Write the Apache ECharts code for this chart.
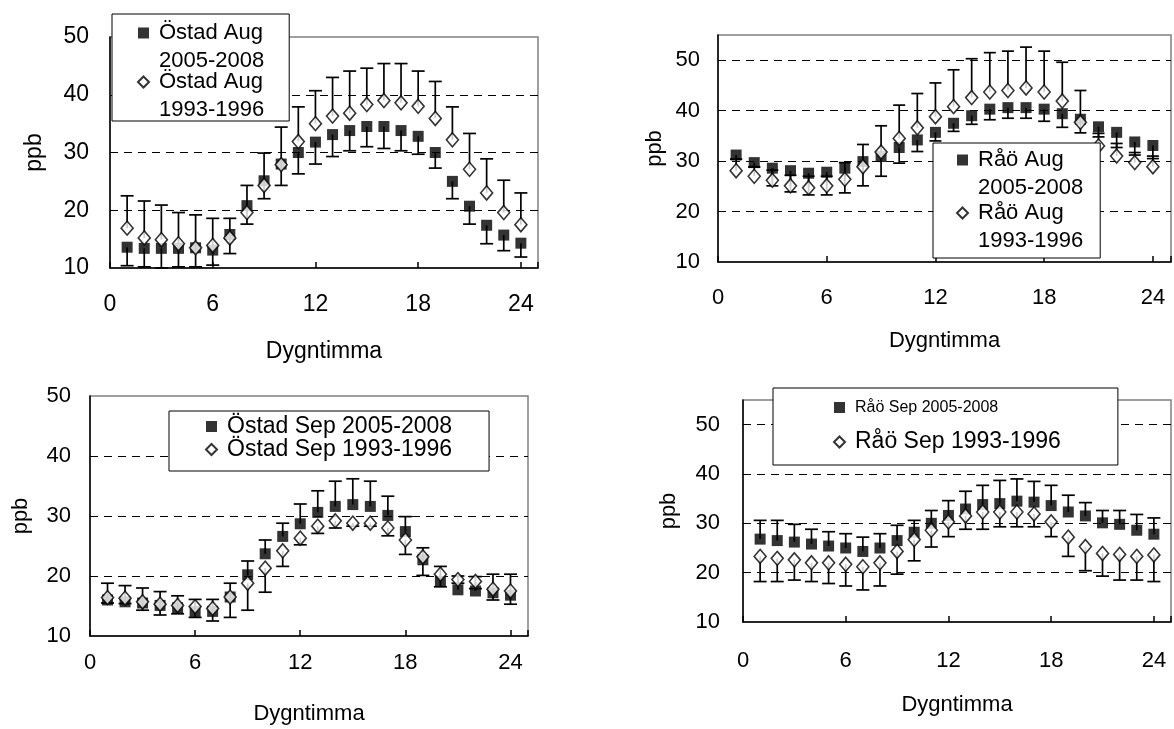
<!DOCTYPE html>
<html><head><meta charset="utf-8">
<script src="https://cdn.jsdelivr.net/npm/echarts@6/dist/echarts.min.js"></script>
<style>html,body{margin:0;padding:0;background:#fff}#c{width:1174px;height:729px}</style>
</head><body><div id="c"></div>
<script>
// ---- data ----
const hours = [1,2,3,4,5,6,7,8,9,10,11,12,13,14,15,16,17,18,19,20,21,22,23,24];
const xTickValues = [0, 6, 12, 18, 24];
const yTickValues = [10, 20, 30, 40, 50];

// Östad Aug (filled = 2005-2008, error bar down; open = 1993-1996, error bar up)
const ostadAug0508 = [13.6,13.4,13.4,13.4,13.5,13.1,15.8,20.8,25.1,28.0,30.0,31.8,33.1,33.8,34.5,34.5,33.8,32.8,30.0,25.0,20.7,17.4,15.7,14.3];
const ostadAug0508Low = [10.4,10.2,10.0,10.2,10.2,10.5,12.5,17.6,22.0,24.3,26.3,28.0,29.3,30.3,31.0,30.7,30.3,29.7,27.3,22.0,17.6,14.2,13.0,11.9];
const ostadAug9396 = [16.9,15.2,14.9,14.2,13.5,13.9,15.2,19.6,24.3,27.9,31.9,35.0,36.3,36.8,38.3,39.0,38.6,38.0,35.9,32.2,27.1,23.0,19.6,17.5];
const ostadAug9396High = [22.5,21.6,20.9,19.6,19.2,18.6,18.6,24.3,29.9,34.4,37.9,40.7,43.0,44.1,44.6,45.4,45.4,44.1,42.3,37.9,33.3,28.9,25.2,23.0];

// Råö Aug
const raoAug0508 = [31.2,29.7,28.6,28.1,27.6,27.8,28.6,29.9,30.9,32.7,34.2,35.7,37.5,39.0,40.3,40.6,40.6,40.3,39.4,38.3,36.8,35.7,33.8,33.1];
const raoAug0508Low = [30.4,28.8,25.1,23.9,23.3,23.3,23.7,25.1,27.0,29.6,31.9,34.0,35.9,37.3,38.2,38.5,38.5,37.9,36.7,35.6,34.8,32.7,31.2,30.5];
const raoAug9396 = [28.1,27.0,26.2,25.1,24.7,25.1,26.4,28.9,31.8,34.5,36.6,38.8,40.8,42.6,43.7,44.0,44.5,43.7,41.9,37.7,33.0,31.0,29.7,28.9];
const raoAug9396High = [30.4,28.9,28.2,27.2,27.0,27.0,29.7,33.3,37.0,41.1,43.4,45.5,48.1,50.3,51.5,51.8,52.6,51.8,49.6,44.0,35.5,33.5,31.7,31.0];

// Östad Sep (filled: error up; open: error down)
const ostadSep0508 = [16.0,15.7,15.5,15.1,14.7,14.1,14.1,16.5,20.2,23.7,26.6,28.7,30.6,31.6,31.9,31.6,30.1,27.4,22.7,19.1,17.7,17.5,17.2,16.8];
const ostadSep0508High = [18.8,18.4,18.0,17.4,16.7,16.1,16.1,18.8,22.5,26.0,28.8,32.0,34.2,35.8,36.2,35.8,33.3,29.9,24.7,21.6,20.0,19.9,20.3,20.3];
const ostadSep9396 = [16.4,16.3,15.7,15.3,15.1,14.9,14.6,16.5,18.8,21.3,24.2,26.3,28.3,29.2,28.8,28.8,28.0,26.0,23.2,20.3,19.4,19.1,17.8,17.5];
const ostadSep9396Low = [15.5,15.4,14.3,13.5,13.7,13.1,12.5,13.1,14.3,17.3,21.6,25.2,27.1,28.0,28.3,28.3,26.7,23.6,20.1,18.2,18.8,17.9,16.0,15.3];

// Råö Sep
const raoSep0508 = [26.8,26.5,26.2,25.8,25.4,25.0,24.3,25.0,26.5,28.2,30.0,31.6,32.9,33.8,34.0,34.5,34.3,33.6,32.3,31.5,30.1,29.8,28.6,27.8];
const raoSep0508High = [30.6,30.6,29.8,28.8,28.3,27.9,27.2,27.9,29.6,30.6,32.6,34.6,36.5,37.7,38.7,39.0,38.5,37.7,35.7,34.2,32.6,32.6,31.8,31.1];
const raoSep9396 = [23.3,22.9,22.6,22.0,22.0,21.7,21.2,22.0,24.3,26.7,28.6,30.3,31.5,32.3,32.3,32.3,31.9,30.3,27.2,25.3,23.9,23.7,23.3,23.6];
const raoSep9396Low = [18.2,18.2,18.5,18.2,17.8,17.3,16.5,17.3,19.7,22.4,25.2,27.3,28.8,28.8,29.3,29.3,29.3,27.3,23.3,20.4,19.3,18.5,18.5,18.2];

const xTitle = 'Dygntimma';
const yTitle = 'ppb';

// ---- layout ----
const FONT = '"Liberation Sans", Arial, sans-serif';
const panels = [
  { grid:{left:110, top:37, width:428, height:231}, ymax:50, fs:23, xm:25, ym:21, xng:72, yng:64, cap:13,
    a:{name:'Östad Aug 2005-2008', v:ostadAug0508, e:ostadAug0508Low},
    b:{name:'Östad Aug 1993-1996', v:ostadAug9396, e:ostadAug9396High},
    legend:{left:112, top:14, padding:[8,25,0,25], itemGap:-1, wrap:true, fs:22, lh:28} },
  { grid:{left:718, top:35, width:458, height:227}, ymax:55, fs:22, xm:25, ym:18, xng:68, yng:52, cap:12,
    a:{name:'Råö Aug 2005-2008', v:raoAug0508, e:raoAug0508Low},
    b:{name:'Råö Aug 1993-1996', v:raoAug9396, e:raoAug9396High},
    legend:{left:933, top:143, padding:[6,17,6,23], itemGap:3, wrap:true, fs:22, lh:28} },
  { grid:{left:90, top:396, width:438, height:240}, ymax:50, fs:22, xm:16, ym:19, xng:67, yng:58, cap:13,
    a:{name:'Östad Sep 2005-2008', v:ostadSep0508, e:ostadSep0508High},
    b:{name:'Östad Sep 1993-1996', v:ostadSep9396, e:ostadSep9396Low},
    legend:{left:169, top:411, padding:[4,37,10,36], itemGap:0, wrap:false, fs:23, lh:23} },
  { grid:{left:743, top:400, width:433, height:222}, ymax:55, fs:22, xm:28, ym:23, xng:72, yng:63, cap:13,
    a:{name:'Råö Sep 2005-2008', v:raoSep0508, e:raoSep0508High},
    b:{name:'Råö Sep 1993-1996', v:raoSep9396, e:raoSep9396Low},
    legend:{left:773, top:388, padding:[10,57,10,60], itemGap:12, wrap:false, fs:23, lh:26, firstFs:16, firstLh:19} }
];

function errRender(cap) {
  return function (params, api) {
    const x = api.value(0), v = api.value(1), e = api.value(2);
    const p0 = api.coord([x, v]);
    const p1 = api.coord([x, e]);
    const st = {stroke:'#000', lineWidth:1.7};
    return {type:'group', children:[
      {type:'line', shape:{x1:p0[0], y1:p0[1], x2:p1[0], y2:p1[1]}, style:st},
      {type:'line', shape:{x1:p1[0]-cap/2, y1:p1[1], x2:p1[0]+cap/2, y2:p1[1]}, style:st}
    ]};
  };
}

const grids = [], xAxes = [], yAxes = [], series = [], legends = [];
panels.forEach((p, i) => {
  grids.push(Object.assign({show:true, borderColor:'#808080', borderWidth:1.5, backgroundColor:'transparent'}, p.grid));
  xAxes.push({
    type:'value', gridIndex:i, min:0, max:25, interval:6,
    name:xTitle, nameLocation:'middle', nameGap:p.xng,
    nameTextStyle:{fontSize:p.fs, color:'#000', fontFamily:FONT},
    axisLine:{show:true, onZero:false, lineStyle:{color:'#000', width:1.5}},
    axisTick:{show:true, inside:true, length:6, lineStyle:{color:'#000', width:1.5}},
    axisLabel:{margin:p.xm, fontSize:p.fs, color:'#000', fontFamily:FONT,
      formatter: v => xTickValues.indexOf(v) >= 0 ? String(v) : ''},
    splitLine:{show:false}
  });
  yAxes.push({
    type:'value', gridIndex:i, min:10, max:p.ymax, interval:10,
    name:yTitle, nameLocation:'middle', nameGap:p.yng,
    nameTextStyle:{fontSize:p.fs, color:'#000', fontFamily:FONT},
    axisLine:{show:true, onZero:false, lineStyle:{color:'#000', width:1.5}},
    axisTick:{show:false},
    axisLabel:{margin:p.ym, fontSize:p.fs, color:'#000', fontFamily:FONT,
      formatter: v => yTickValues.indexOf(v) >= 0 ? String(v) : ''},
    splitLine:{show:true, showMinLine:false, showMaxLine:false,
      lineStyle:{color:'#000', width:1, type:[8,6]}}
  });
  [['a','rect',11,2],['b','diamond',[12,14],4]].forEach(([k, sym, size, z]) => {
    const s = p[k];
    series.push({
      type:'custom', name:'err_' + s.name, xAxisIndex:i, yAxisIndex:i, z:z, silent:true, clip:false,
      renderItem: errRender(p.cap), encode:{x:0, y:[1,2]},
      data: hours.map((h, j) => [h, s.v[j], s.e[j]])
    });
    series.push({
      type:'scatter', name:s.name, xAxisIndex:i, yAxisIndex:i, z:z+1,
      symbol:sym, symbolSize:size,
      itemStyle: k === 'a' ? {color:'#000', borderColor:'#000', borderWidth:0}
                           : {color:'#fff', borderColor:'#000', borderWidth:1.6},
      data: hours.map((h, j) => [h, s.v[j]])
    });
  });
  const L = p.legend;
  let ts, fmt;
  if (L.wrap) {
    // rich text: top padding of one line keeps the icon beside the first line
    ts = {padding:[L.lh, 0, 0, 5], color:'#000', fontFamily:FONT, fontSize:L.fs,
          rich:{t:{fontSize:L.fs, lineHeight:L.lh, color:'#000', fontFamily:FONT}}};
    fmt = n => { const m = n.match(/^(.*) (\d{4}-\d{4})$/); return '{t|' + m[1] + '}\n{t|' + m[2] + '}'; };
  } else {
    ts = {padding:[0, 0, 0, 5], fontSize:L.fs, lineHeight:L.lh, color:'#000', fontFamily:FONT};
    fmt = n => n;
  }
  const data = [p.a.name, p.b.name].map((n, j) => {
    if (j === 0 && L.firstFs) return {name:n, textStyle:{fontSize:L.firstFs, lineHeight:L.firstLh, color:'#000', fontFamily:FONT, padding:[0,0,0,5]}};
    return {name:n};
  });
  legends.push({
    data:data, orient:'vertical', left:L.left, top:L.top, padding:L.padding, itemGap:L.itemGap,
    itemWidth:11, itemHeight:11, selectedMode:false, z:20,
    backgroundColor:'#fff', borderColor:'#000', borderWidth:1, borderRadius:0,
    formatter: fmt, textStyle: ts
  });
});

const chart = echarts.init(document.getElementById('c'), null, {renderer:'canvas'});
chart.setOption({
  animation:false, backgroundColor:'#fff',
  grid:grids, xAxis:xAxes, yAxis:yAxes, series:series, legend:legends
});
</script></body></html>
